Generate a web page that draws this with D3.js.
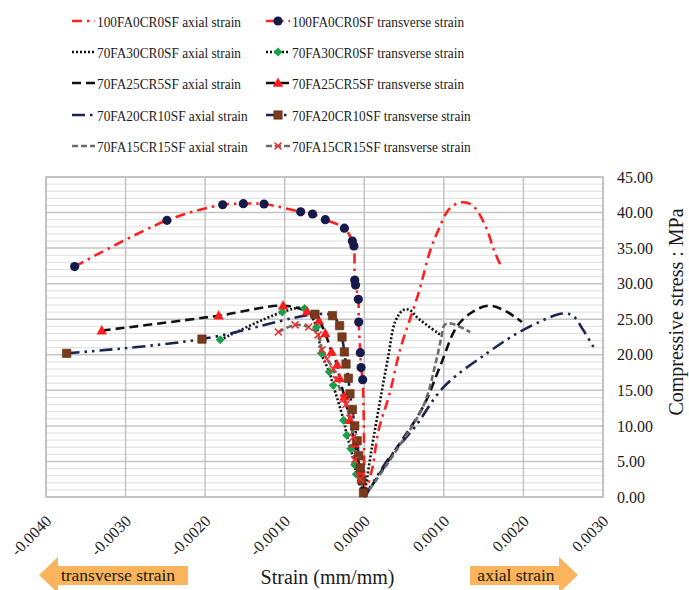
<!DOCTYPE html>
<html>
<head>
<meta charset="utf-8">
<script src="https://cdn.jsdelivr.net/npm/d3@7"></script>
<style>
    body { margin: 0; background: #fff; }
    svg text { font-family: "Liberation Serif", "Times New Roman", Times, serif; fill: #1a1a1a; }
</style>
</head>
<body>
<svg id="chart" width="689" height="590"></svg>
<script>
// tick values
const xTicks = [-0.004, -0.003, -0.002, -0.001, 0, 0.001, 0.002, 0.003];
const yTicks = [0, 5, 10, 15, 20, 25, 30, 35, 40, 45];

// axial strain curves [strain, stress MPa]
const axial100FA0 = [[0, 0], [0.0001, 4], [0.00018, 9.4], [0.00032, 14.6], [0.00045, 20.7], [0.00068, 28.6],
    [0.00083, 34.7], [0.00093, 37.5], [0.00106, 40.4], [0.0012, 41.4], [0.00135, 41.1], [0.00152, 38.2],
    [0.00163, 34.7], [0.00172, 32.4]];
const axial70FA30 = [[0, 0], [0.00009, 6.6], [0.0002, 13.6], [0.0003, 19.7], [0.00039, 24.7], [0.00049, 26.3],
    [0.00057, 26.3], [0.00068, 25.1], [0.00097, 22.7]];
const axial70FA25 = [[0, 0], [0.00036, 6.1], [0.00074, 12.7], [0.00095, 18.3], [0.00116, 23.9], [0.00133, 25.8],
    [0.00155, 26.9], [0.00175, 26.3], [0.00192, 25.1], [0.00198, 24.6]];
const axial70FA20 = [[0, 0], [0.0003, 5.3], [0.00064, 9.9], [0.001, 15.5], [0.00154, 20.2], [0.002, 23.5],
    [0.0025, 25.8], [0.00263, 25.4], [0.00275, 23.5], [0.00288, 21.1]];
const axial70FA15 = [[0, 0], [0.0004, 6.5], [0.00075, 13], [0.0009, 19], [0.00097, 22.5], [0.00101, 24.2],
    [0.00109, 24.4], [0.00133, 23.2]];

// transverse strain curves
const trans100FA0 = [[-0.00364, 32.4], [-0.00248, 38.9], [-0.00178, 41.1], [-0.00152, 41.25], [-0.00126, 41.2],
    [-0.0008, 40.1], [-0.00065, 39.8], [-0.00049, 39.0], [-0.00025, 37.8], [-0.00015, 36.0], [-0.00013, 35.3],
    [-0.00012, 30.5], [-0.00011, 29.8], [-0.000075, 27.8], [-0.00007, 24.6], [-0.00005, 20.3], [-0.00004, 18.2],
    [-0.00002, 16.5], [0, 0]];
const trans70FA30 = [[-0.00181, 22.1], [-0.00103, 26.0], [-0.00075, 26.5], [-0.0006, 23.9], [-0.00054, 20.2],
    [-0.00044, 17.6], [-0.00039, 15.7], [-0.00026, 10.8], [-0.00022, 8.7], [-0.00017, 6.8], [-0.00012, 4.5],
    [-0.0001, 3.2], [0, 0]];
const trans70FA25 = [[-0.0033, 23.4], [-0.00183, 25.5], [-0.00102, 26.9], [-0.00072, 26.1], [-0.00057, 24.8],
    [-0.00049, 23.0], [-0.00041, 20.4], [-0.00034, 18.6], [-0.00031, 16.7], [-0.00025, 14.1], [-0.00018, 10.8],
    [-0.00012, 7.5], [-0.00005, 3.6], [0, 0]];
const trans70FA20 = [[-0.00374, 20.2], [-0.00204, 22.2], [-0.00062, 25.7], [-0.0004, 25.5], [-0.00031, 24.1],
    [-0.00028, 22.5], [-0.00025, 20.4], [-0.00023, 18.7], [-0.0002, 16.7], [-0.00018, 14.5], [-0.00015, 12.3],
    [-0.00012, 10.0], [-0.00009, 7.9], [-0.00007, 5.8], [-0.00005, 4.1], [-0.00003, 2.4], [-0.00001, 0.6]];
const trans70FA15 = [[-0.00108, 23.2], [-0.00087, 24.2], [-0.0007, 23.9], [-0.00058, 22.8], [-0.00053, 20.7],
    [-0.00047, 19.4], [-0.00039, 18.0], [-0.00035, 16.5], [-0.00026, 13.8], [-0.00023, 13.0], [-0.00018, 11.1],
    [-0.00014, 8.4], [-0.00012, 5.2], [-0.00005, 2.5], [0, 0]];

const legendNames = ["100FA0CR0SF", "70FA30CR0SF", "70FA25CR5SF", "70FA20CR10SF", "70FA15CR15SF"];

const SERIF = "'Liberation Serif', 'Times New Roman', Times, serif";

class StressStrainChart {
    constructor() {
        this.svg = d3.select("#chart");
        this.left = 46;
        this.right = 603;
        this.top = 177;
        this.bottom = 497;

        this.scaleX = d3.scaleLinear().domain([-0.004, 0.003]).range([this.left, this.right]);
        this.scaleY = d3.scaleLinear().domain([0, 45]).range([this.bottom, this.top]);

        // line styles per mix
        this.styles = [
            {color: "#ff2020", dash: "10,5,2.5,5", marker: "circle"},
            {color: "#111111", dash: "2,2", marker: "diamond"},
            {color: "#111111", dash: "9,5", marker: "triangle"},
            {color: "#1c2452", dash: "13,5,2.5,5,2.5,5", marker: "square"},
            {color: "#6b6b6b", dash: "6,3", marker: "x"}
        ];
        this.axial = [axial100FA0, axial70FA30, axial70FA25, axial70FA20, axial70FA15];
        this.trans = [trans100FA0, trans70FA30, trans70FA25, trans70FA20, trans70FA15];

        this.drawGrid();
        this.drawAxis();
        this.drawPlot();
        this.drawLegend();
        this.drawArrows();
    }

    drawGrid() {
        let g = this.svg.append("g").attr("class", "grid");
        // minor horizontal lines every 1 MPa
        g.selectAll(".minor").data(d3.range(1, 45).filter(v => v % 5 !== 0))
            .join("line")
            .attr("x1", this.left).attr("x2", this.right)
            .attr("y1", d => this.scaleY(d)).attr("y2", d => this.scaleY(d))
            .attr("stroke", "#dedede").attr("stroke-width", 1);
        g.selectAll(".majorY").data(yTicks)
            .join("line")
            .attr("x1", this.left).attr("x2", this.right)
            .attr("y1", d => this.scaleY(d)).attr("y2", d => this.scaleY(d))
            .attr("stroke", "#c4c4c4").attr("stroke-width", 1.5);
        g.selectAll(".majorX").data(xTicks)
            .join("line")
            .attr("x1", d => this.scaleX(d)).attr("x2", d => this.scaleX(d))
            .attr("y1", this.top).attr("y2", this.bottom)
            .attr("stroke", "#c4c4c4").attr("stroke-width", 1.5);
        g.append("rect")
            .attr("x", this.left).attr("y", this.top)
            .attr("width", this.right - this.left).attr("height", this.bottom - this.top)
            .attr("fill", "none").attr("stroke", "#bdbdbd").attr("stroke-width", 1.5);
    }

    drawAxis() {
        let yAxis = d3.axisRight(this.scaleY)
            .tickValues(yTicks)
            .tickSize(0)
            .tickPadding(14)
            .tickFormat(d => d.toFixed(2));
        let yg = this.svg.append("g")
            .attr("transform", `translate(${this.right},0)`)
            .call(yAxis)
            .attr("font-family", SERIF);
        yg.select(".domain").remove();
        yg.selectAll("text")
            .attr("font-family", SERIF)
            .style("font-size", "16px")
            .attr("fill", "#1a1a1a");

        let xAxis = d3.axisBottom(this.scaleX)
            .tickValues(xTicks)
            .tickSize(0)
            .tickFormat(d => d.toFixed(4));
        let xg = this.svg.append("g")
            .attr("transform", `translate(0,${this.bottom})`)
            .call(xAxis)
            .attr("font-family", SERIF);
        xg.select(".domain").remove();
        xg.selectAll("text")
            .attr("x", 0).attr("y", 0).attr("dy", 0)
            .attr("text-anchor", "end")
            .attr("transform", "translate(6,25) rotate(-45)")
            .attr("font-family", SERIF)
            .style("font-size", "16px")
            .attr("fill", "#1a1a1a");

        this.svg.append("text")
            .attr("x", (this.left + this.right) / 2 + 3)
            .attr("y", 584)
            .attr("text-anchor", "middle")
            .attr("font-family", SERIF)
            .style("font-size", "20px")
            .text("Strain (mm/mm)");
        this.svg.append("text")
            .attr("transform", `translate(683,312) rotate(-90)`)
            .attr("text-anchor", "middle")
            .attr("font-family", SERIF)
            .style("font-size", "20px")
            .text("Compressive stress : MPa");
    }

    markerPath(type) {
        if (type === "circle") return d3.symbol(d3.symbolCircle, 66)();
        if (type === "diamond") return "M0,-4.5L4.5,0L0,4.5L-4.5,0Z";
        if (type === "triangle") return "M0,-5.5L5.2,3.8L-5.2,3.8Z";
        if (type === "square") return "M-4.2,-4.2H4.2V4.2H-4.2Z";
        return "M-3.5,-3.5L3.5,3.5M3.5,-3.5L-3.5,3.5";
    }

    markerStyle(sel, type) {
        if (type === "circle") sel.attr("fill", "#151a4a");
        if (type === "diamond") sel.attr("fill", "#17a24a");
        if (type === "triangle") sel.attr("fill", "#ff1c1c");
        if (type === "square") sel.attr("fill", "#7a3a1c").attr("stroke", "#5c2a12").attr("stroke-width", 0.6);
        if (type === "x") sel.attr("fill", "none").attr("stroke", "#ff2a2a").attr("stroke-width", 1.6);
    }

    drawPlot() {
        let parent = this;
        let line = d3.line()
            .x(d => this.scaleX(d[0]))
            .y(d => this.scaleY(d[1]))
            .curve(d3.curveCatmullRom.alpha(0.5));
        let plot = this.svg.append("g").attr("class", "plot");

        // transverse lines, then axial lines on top
        this.trans.forEach((data, i) => {
            plot.append("path")
                .attr("d", line(data))
                .attr("fill", "none")
                .attr("stroke", this.styles[i].color)
                .attr("stroke-width", 2.6)
                .attr("stroke-dasharray", this.styles[i].dash);
        });
        this.axial.forEach((data, i) => {
            plot.append("path")
                .attr("d", line(data))
                .attr("fill", "none")
                .attr("stroke", this.styles[i].color)
                .attr("stroke-width", 2.6)
                .attr("stroke-dasharray", this.styles[i].dash);
        });

        // markers for transverse series
        this.trans.forEach((data, i) => {
            let type = this.styles[i].marker;
            let m = plot.append("g").selectAll("path").data(data.filter(d => d[0] !== 0))
                .join("path")
                .attr("transform", d => `translate(${parent.scaleX(d[0])},${parent.scaleY(d[1])})`)
                .attr("d", this.markerPath(type));
            this.markerStyle(m, type);
        });
    }

    drawLegend() {
        let rows = [21, 52, 83, 115, 146];
        // the legend lettering in the figure is narrow, so squeeze it horizontally
        let squeeze = 0.86;
        legendNames.forEach((name, i) => {
            let st = this.styles[i];
            // axial column
            let a = this.svg.append("g").attr("transform", `translate(72,${rows[i]})`);
            a.append("line")
                .attr("x1", 0).attr("x2", 23).attr("y1", 0).attr("y2", 0)
                .attr("stroke", st.color).attr("stroke-width", 2.6)
                .attr("stroke-dasharray", st.dash);
            a.append("text")
                .attr("transform", `translate(25,5.5) scale(${squeeze},1)`)
                .attr("font-family", SERIF)
                .style("font-size", "15.5px")
                .text(`${name} axial strain`);
            // transverse column
            let t = this.svg.append("g").attr("transform", `translate(266,${rows[i]})`);
            t.append("line")
                .attr("x1", 0).attr("x2", 24).attr("y1", 0).attr("y2", 0)
                .attr("stroke", st.color).attr("stroke-width", 2.6)
                .attr("stroke-dasharray", st.dash);
            let m = t.append("path")
                .attr("transform", "translate(12,0)")
                .attr("d", this.markerPath(st.marker));
            this.markerStyle(m, st.marker);
            t.append("text")
                .attr("transform", `translate(26,5.5) scale(${squeeze},1)`)
                .attr("font-family", SERIF)
                .style("font-size", "15.5px")
                .text(`${name} transverse strain`);
        });
    }

    drawArrows() {
        let fill = "#f9b45c";
        // left arrow: transverse side
        this.svg.append("path")
            .attr("d", "M39,575 L58,557 L58,566 L188,566 L188,585 L58,585 L58,593 Z")
            .attr("fill", fill);
        this.svg.append("text")
            .attr("x", 118).attr("y", 581)
            .attr("text-anchor", "middle")
            .attr("font-family", SERIF)
            .style("font-size", "17.5px")
            .text("transverse strain");
        // right arrow: axial side
        this.svg.append("path")
            .attr("d", "M470,566 L559,566 L559,557 L578,575 L559,593 L559,585 L470,585 Z")
            .attr("fill", fill);
        this.svg.append("text")
            .attr("x", 516).attr("y", 581)
            .attr("text-anchor", "middle")
            .attr("font-family", SERIF)
            .style("font-size", "17.5px")
            .text("axial strain");
    }
}

new StressStrainChart();
</script>
</body>
</html>
